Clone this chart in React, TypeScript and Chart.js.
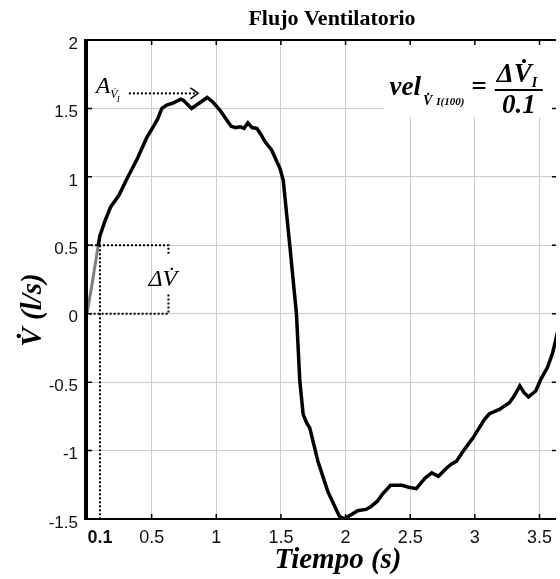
import React, { useEffect, useRef } from "react";
import { Chart, registerables } from "chart.js";

Chart.register(...registerables);

// ---- data ----
const timeValues = [
  0.085, 0.1, 0.14, 0.183, 0.247, 0.311, 0.388, 0.464, 0.515, 0.545, 0.579, 0.617, 0.668, 0.724, 0.745,
  0.809, 0.87, 0.929, 0.97, 1.026, 1.07, 1.115, 1.15, 1.187, 1.215, 1.245, 1.276, 1.314, 1.345, 1.378,
  1.429, 1.493, 1.518, 1.544, 1.57, 1.595, 1.62, 1.646, 1.672, 1.7, 1.723, 1.786, 1.863, 1.952, 1.99,
  2.04, 2.093, 2.157, 2.195, 2.246, 2.284, 2.348, 2.437, 2.488, 2.547, 2.616, 2.667, 2.718, 2.782, 2.82,
  2.858, 2.91, 2.986, 3.075, 3.113, 3.19, 3.267, 3.305, 3.348, 3.381, 3.415, 3.471, 3.51, 3.561, 3.599,
  3.624, 3.66,
];
const flowValues = [
  0.49, 0.57, 0.68, 0.78, 0.865, 0.99, 1.13, 1.29, 1.37, 1.42, 1.5, 1.525, 1.54, 1.567, 1.56,
  1.5, 1.54, 1.58, 1.55, 1.49, 1.43, 1.37, 1.36, 1.366, 1.355, 1.395, 1.36, 1.354, 1.31, 1.256,
  1.195, 1.06, 0.975, 0.73, 0.486, 0.242, 0.0, -0.49, -0.735, -0.8, -0.834, -1.078, -1.3, -1.48, -1.498,
  -1.47, -1.44, -1.43, -1.41, -1.37, -1.32, -1.254, -1.254, -1.268, -1.278, -1.2, -1.163, -1.188, -1.127, -1.097,
  -1.078, -1.004, -0.907, -0.772, -0.731, -0.699, -0.65, -0.6, -0.528, -0.577, -0.608, -0.565, -0.479, -0.394, -0.295,
  -0.198, -0.05,
];
// initial 100 ms ramp (grey)
const rampTime = [0, 0.04, 0.085];
const rampFlow = [0, 0.22, 0.49];

// dotted ΔV box (null = gap for the label)
const boxTime = [0, 0.63, 0.63, 0.63, 0.63, 0.63, 0];
const boxFlow = [0.5, 0.5, 0.43, null, 0.14, 0, 0];
// dotted vertical line at 0.1 s
const markTime = [0.1, 0.1];
const markFlow = [0.5, -1.5];
// dotted arrow for A
const arrowTime = [0.324, 0.85];
const arrowFlow = [1.61, 1.61];
const arrowHeadTime = [0.8, 0.86, 0.8];
const arrowHeadFlow = [1.65, 1.61, 1.57];

const xTickValues = [0.1, 0.5, 1, 1.5, 2, 2.5, 3, 3.5];
const xTickLabels = ["0.1", "0.5", "1", "1.5", "2", "2.5", "3", "3.5"];
const yTickValues = [-1.5, -1, -0.5, 0, 0.5, 1, 1.5, 2];
const yTickLabels = ["-1.5", "-1", "-0.5", "0", "0.5", "1", "1.5", "2"];

const X_MIN = 0;
const X_MAX = 3.627;
const Y_MIN = -1.5;
const Y_MAX = 2;

const pts = (xs: number[], ys: (number | null)[]) => xs.map((x, i) => ({ x, y: ys[i] }));

const SERIF = '"Liberation Serif", "DejaVu Serif", serif';
const SANS = '"Liberation Sans", Arial, sans-serif';

const annotationPlugin = {
  id: "flowAnnotations",
  beforeDatasetsDraw(chart: any) {
    const { ctx, scales } = chart;
    const x = scales.x;
    const y = scales.y;
    // white backdrop behind the formula
    const x0 = x.getPixelForValue(2.3);
    const x1 = x.getPixelForValue(X_MAX);
    const y0 = y.getPixelForValue(Y_MAX) + 1;
    const y1 = y.getPixelForValue(1.437);
    ctx.save();
    ctx.fillStyle = "#ffffff";
    ctx.fillRect(x0, y0, x1 - x0, y1 - y0);
    ctx.restore();
  },
  afterDraw(chart: any) {
    const { ctx, chartArea, scales } = chart;
    const xs = scales.x;
    const ys = scales.y;
    const { left, right, top, bottom } = chartArea;
    ctx.save();
    ctx.strokeStyle = "#000";
    ctx.lineCap = "butt";

    // inward tick marks
    ctx.lineWidth = 1.5;
    const tl = 5;
    xTickValues.forEach((v) => {
      if (v === 0.1) return;
      const px = xs.getPixelForValue(v);
      ctx.beginPath();
      ctx.moveTo(px, bottom);
      ctx.lineTo(px, bottom - tl);
      ctx.moveTo(px, top);
      ctx.lineTo(px, top + tl);
      ctx.stroke();
    });
    yTickValues.forEach((v) => {
      const py = ys.getPixelForValue(v);
      ctx.beginPath();
      ctx.moveTo(left, py);
      ctx.lineTo(left + tl, py);
      ctx.moveTo(right, py);
      ctx.lineTo(right - tl + 1, py);
      ctx.stroke();
    });

    // box borders
    ctx.lineWidth = 2;
    ctx.beginPath();
    ctx.moveTo(left, top);
    ctx.lineTo(right, top);
    ctx.moveTo(left, bottom);
    ctx.lineTo(right, bottom);
    ctx.stroke();
    ctx.lineWidth = 4;
    ctx.beginPath();
    ctx.moveTo(left - 1, top - 1);
    ctx.lineTo(left - 1, bottom + 1);
    ctx.stroke();

    ctx.fillStyle = "#000";
    ctx.textAlign = "left";
    ctx.textBaseline = "alphabetic";

    // title
    ctx.font = `bold 22px ${SERIF}`;
    ctx.textAlign = "center";
    ctx.fillText("Flujo Ventilatorio", 332, 25);

    // axis titles
    ctx.font = `italic bold 29px ${SERIF}`;
    ctx.fillText("Tiempo (s)", 338, 568);
    ctx.save();
    ctx.translate(41, 310);
    ctx.rotate(-Math.PI / 2);
    ctx.fillText("V\u0307 (l/s)", 0, 0);
    ctx.restore();

    // A label
    ctx.textAlign = "left";
    const ax = xs.getPixelForValue(0.067);
    const ay = ys.getPixelForValue(1.614);
    ctx.font = `italic 24px ${SERIF}`;
    ctx.fillText("A", ax, ay);
    const aw = ctx.measureText("A").width;
    ctx.font = `italic 12px ${SERIF}`;
    ctx.fillText("V\u0307", ax + aw, ay + 5);
    const vw = ctx.measureText("V").width;
    ctx.font = `italic 9px ${SERIF}`;
    ctx.fillText("I", ax + aw + vw - 1, ay + 9);

    // ΔV label
    ctx.font = `italic 24px ${SERIF}`;
    ctx.fillText("\u0394V\u0307", xs.getPixelForValue(0.475), ys.getPixelForValue(0.2));

    // formula
    const fx = xs.getPixelForValue(2.34);
    const fy = ys.getPixelForValue(1.598);
    ctx.font = `italic bold 27px ${SERIF}`;
    ctx.fillText("vel", fx, fy);
    let cx = fx + ctx.measureText("vel").width + 2;
    ctx.font = `italic bold 14px ${SERIF}`;
    ctx.fillText("V\u0307", cx, fy + 10);
    cx += ctx.measureText("V").width + 4;
    ctx.font = `italic bold 11px ${SERIF}`;
    ctx.fillText("I(100)", cx, fy + 10);
    cx += ctx.measureText("I(100)").width + 7;
    ctx.font = `bold 27px ${SERIF}`;
    ctx.fillText("=", cx, fy);
    cx += ctx.measureText("=").width + 8;
    const fracL = cx;
    ctx.font = `italic bold 27px ${SERIF}`;
    ctx.fillText("\u0394V\u0307", fracL + 2, fy - 13);
    const nw = ctx.measureText("\u0394V").width;
    ctx.font = `italic bold 14px ${SERIF}`;
    ctx.fillText("I", fracL + 2 + nw, fy - 8);
    const fracR = fracL + 48;
    ctx.lineWidth = 2;
    ctx.beginPath();
    ctx.moveTo(fracL, fy - 5);
    ctx.lineTo(fracR, fy - 5);
    ctx.stroke();
    ctx.font = `italic bold 27px ${SERIF}`;
    ctx.textAlign = "center";
    ctx.fillText("0.1", (fracL + fracR) / 2, fy + 18);

    ctx.restore();
  },
};

export default function App() {
  const ref = useRef<HTMLCanvasElement | null>(null);

  useEffect(() => {
    if (!ref.current) return;
    const gridColor = "#cccccc";
    const chart = new Chart(ref.current, {
      type: "line",
      data: {
        datasets: [
          {
            data: pts(timeValues, flowValues),
            borderColor: "#000",
            borderWidth: 3.5,
            pointRadius: 0,
            tension: 0,
          },
          {
            data: pts(rampTime, rampFlow),
            borderColor: "#7f7f7f",
            borderWidth: 3,
            pointRadius: 0,
          },
          {
            data: pts(boxTime, boxFlow),
            borderColor: "#000",
            borderWidth: 2,
            borderDash: [2, 2],
            pointRadius: 0,
            spanGaps: false,
          },
          {
            data: pts(markTime, markFlow),
            borderColor: "#000",
            borderWidth: 2,
            borderDash: [2, 2],
            pointRadius: 0,
          },
          {
            data: pts(arrowTime, arrowFlow),
            borderColor: "#000",
            borderWidth: 2,
            borderDash: [2, 2],
            pointRadius: 0,
          },
          {
            data: pts(arrowHeadTime, arrowHeadFlow),
            borderColor: "#000",
            borderWidth: 1.5,
            pointRadius: 0,
          },
        ] as any,
      },
      options: {
        animation: false,
        responsive: false,
        devicePixelRatio: 1,
        layout: { padding: { top: 40, left: 0, right: 0, bottom: 0 } },
        plugins: { legend: { display: false }, tooltip: { enabled: false }, title: { display: false } },
        scales: {
          x: {
            type: "linear",
            min: X_MIN,
            max: X_MAX,
            afterBuildTicks: (s: any) => {
              s.ticks = xTickValues.map((v) => ({ value: v }));
            },
            afterFit: (s: any) => {
              s.height = 60;
            },
            border: { display: false },
            grid: {
              drawTicks: false,
              lineWidth: 1,
              color: (c: any) => (c.tick && c.tick.value === 0.1 ? "rgba(0,0,0,0)" : gridColor),
            },
            ticks: {
              padding: 8,
              color: "#111",
              maxRotation: 0,
              autoSkip: false,
              font: (c: any) => ({
                family: SANS,
                size: 18,
                weight: c.tick && c.tick.value === 0.1 ? "bold" : "normal",
              }),
              callback: (v: any) => {
                const i = xTickValues.indexOf(Number(v));
                return i >= 0 ? xTickLabels[i] : "";
              },
            },
          },
          y: {
            type: "linear",
            min: Y_MIN,
            max: Y_MAX,
            afterBuildTicks: (s: any) => {
              s.ticks = yTickValues.map((v) => ({ value: v }));
            },
            afterFit: (s: any) => {
              s.width = 87;
            },
            border: { display: false },
            grid: { drawTicks: false, lineWidth: 1, color: gridColor },
            ticks: {
              padding: 9,
              labelOffset: 4,
              color: "#111",
              autoSkip: false,
              font: { family: SANS, size: 17 },
              callback: (v: any) => {
                const i = yTickValues.indexOf(Number(v));
                return i >= 0 ? yTickLabels[i] : "";
              },
            },
          },
        },
      },
      plugins: [annotationPlugin],
    });
    return () => chart.destroy();
  }, []);

  return (
    <canvas
      ref={ref}
      width={560}
      height={579}
      style={{ position: "absolute", left: 0, top: 0, width: 560, height: 579 }}
    />
  );
}
